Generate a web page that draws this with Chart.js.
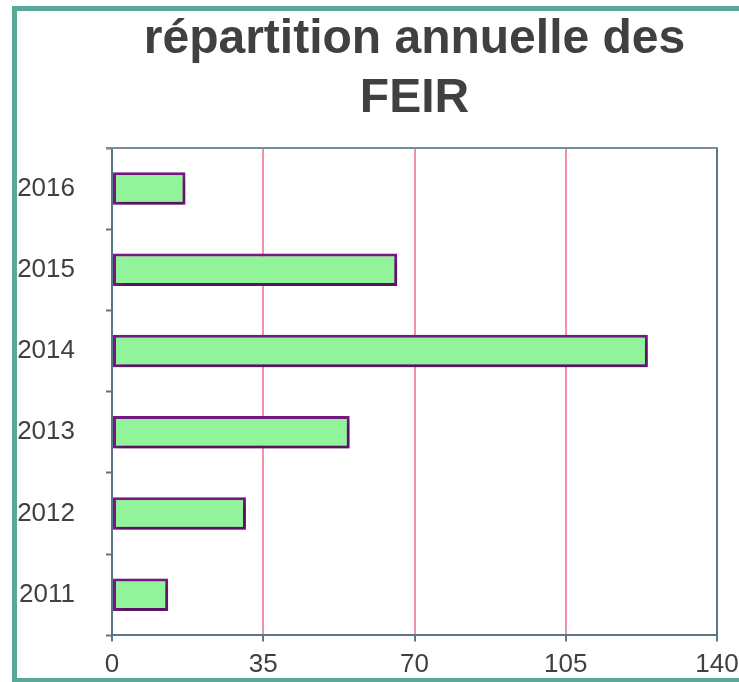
<!DOCTYPE html>
<html>
<head>
<meta charset="utf-8">
<script src="https://cdn.jsdelivr.net/npm/chart.js@4"></script>
<style>
  html, body { margin: 0; padding: 0; background: #fff; overflow: hidden; }
  canvas { display: block; }
</style>
</head>
<body>
<canvas id="chart" width="739" height="682"></canvas>
<script>
// Données
var annees = ['2011', '2012', '2013', '2014', '2015', '2016'];
var feir = [13, 31, 55, 124, 66, 17];
var titre = ['répartition annuelle des', 'FEIR'];

var ardoise = '#5b7787';
var rose = '#f293a6';

// cadre vert (ouvert à droite), bord haut du graphe, titre centré sur la zone du graphe
var cadre = {
  id: 'cadre',
  beforeDraw: function(chart) {
    var ctx = chart.ctx;
    ctx.save();
    ctx.fillStyle = '#fff';
    ctx.fillRect(0, 0, chart.width, chart.height);
    ctx.fillStyle = '#5aa998';
    ctx.fillRect(12, 6, chart.width, 5);   // haut
    ctx.fillRect(12, 6, 5, 676);           // gauche
    ctx.fillRect(12, 678, chart.width, 5); // bas
    ctx.restore();
  },
  afterDraw: function(chart) {
    var ctx = chart.ctx;
    var a = chart.chartArea;
    ctx.save();
    ctx.strokeStyle = '#7690a0';
    ctx.lineWidth = 2;
    ctx.beginPath();
    ctx.moveTo(a.left - 6, a.top);
    ctx.lineTo(a.right + 1, a.top);
    ctx.stroke();
    ctx.fillStyle = '#404040';
    ctx.font = 'bold 48px "Liberation Sans", Arial, sans-serif';
    ctx.textAlign = 'center';
    ctx.textBaseline = 'alphabetic';
    var cx = (a.left + a.right) / 2;
    ctx.fillText(titre[0], cx, 53);
    ctx.fillText(titre[1], cx, 112);
    ctx.restore();
  }
};

// ombre portée des barres
var ombre = {
  id: 'ombre',
  beforeDatasetDraw: function(chart) {
    var ctx = chart.ctx;
    ctx.save();
    ctx.shadowColor = 'rgba(0,0,0,0.35)';
    ctx.shadowBlur = 8;
    ctx.shadowOffsetX = 3;
    ctx.shadowOffsetY = 4;
  },
  afterDatasetDraw: function(chart) {
    chart.ctx.restore();
  }
};

new Chart(document.getElementById('chart'), {
  type: 'bar',
  data: {
    labels: annees,
    datasets: [{
      data: feir,
      backgroundColor: '#91f49b',
      borderColor: '#771a84',
      borderWidth: 3,
      borderSkipped: false,
      barPercentage: 0.4,
      categoryPercentage: 1
    }]
  },
  options: {
    indexAxis: 'y',
    responsive: false,
    animation: false,
    layout: { padding: { top: 148, right: 22, bottom: 0, left: 0 } },
    plugins: { legend: { display: false }, title: { display: false }, tooltip: { enabled: false } },
    scales: {
      x: {
        min: 0,
        max: 140,
        afterFit: function(s) { s.height = 46; s.paddingRight = 22; },
        ticks: {
          stepSize: 35,
          padding: 8,
          color: '#404040',
          font: { family: '"Liberation Sans", Arial, sans-serif', size: 26 }
        },
        grid: {
          color: function(c) { return (c.tick && (c.tick.value === 0 || c.tick.value === 140)) ? ardoise : rose; },
          lineWidth: 2,
          tickLength: 6,
          tickColor: ardoise,
          tickWidth: 2
        },
        border: { color: ardoise, width: 2 }
      },
      y: {
        reverse: true,
        afterFit: function(s) { s.width = 112; },
        ticks: {
          padding: 31,
          color: '#404040',
          font: { family: '"Liberation Sans", Arial, sans-serif', size: 26 }
        },
        grid: {
          drawOnChartArea: false,
          tickLength: 6,
          tickColor: ardoise,
          tickWidth: 2
        },
        border: { color: ardoise, width: 2 }
      }
    }
  },
  plugins: [cadre, ombre]
});
</script>
</body>
</html>
